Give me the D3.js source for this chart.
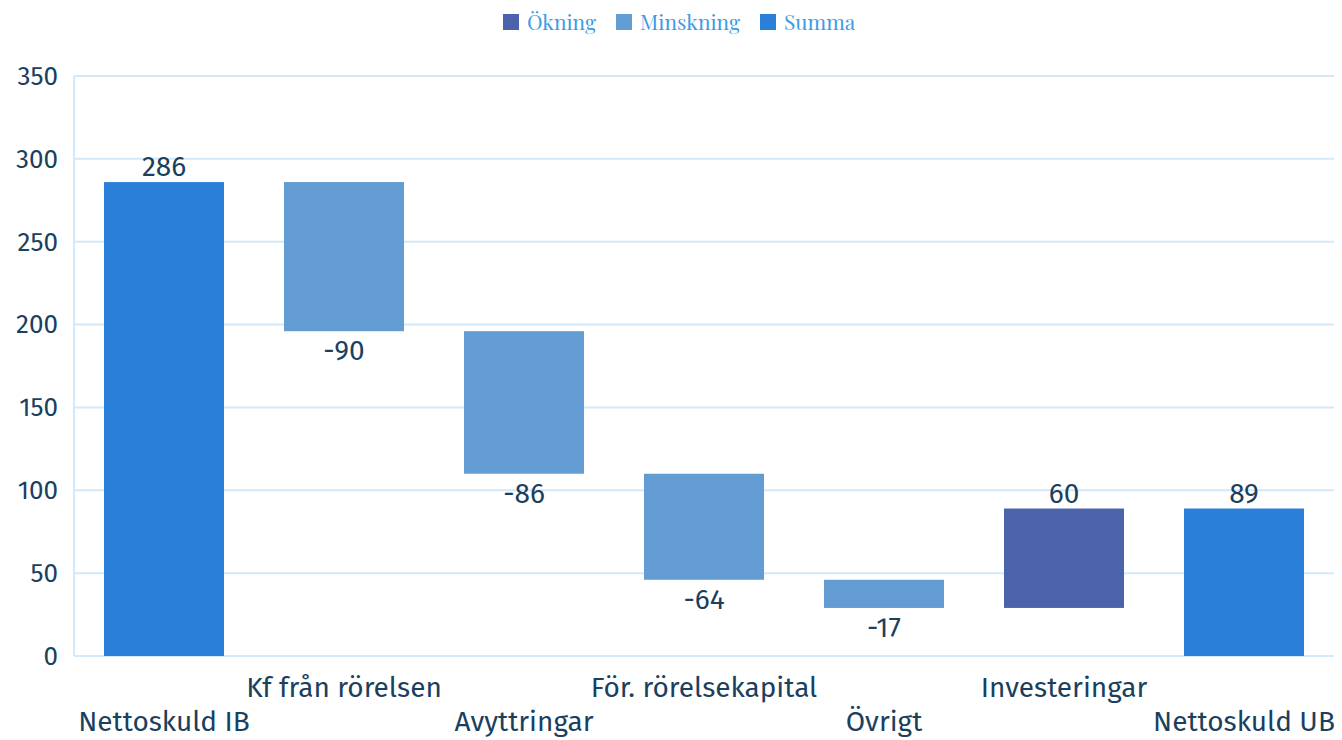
<!DOCTYPE html>
<html>
<head>
<meta charset="utf-8">
<script src="https://cdn.jsdelivr.net/npm/d3@7"></script>
<style>
  body { margin: 0; background: #fff; }
  svg { display: block; }
</style>
</head>
<body>
<svg id="chart" width="1342" height="740"></svg>
<script>
const categories = ["Nettoskuld IB", "Kf från rörelsen", "Avyttringar", "För. rörelsekapital", "Övrigt", "Investeringar", "Nettoskuld UB"];
const values = [286, -90, -86, -64, -17, 60, 89];
const kinds = ["Summa", "Minskning", "Minskning", "Minskning", "Minskning", "Ökning", "Summa"];
const yTicks = [0, 50, 100, 150, 200, 250, 300, 350];
const legendItems = ["Ökning", "Minskning", "Summa"];

const colors = { "Ökning": "#4b63aa", "Minskning": "#629cd2", "Summa": "#2a80d8" };
const textColor = "#1b3f5e";
const font = "'Fira Sans', 'Noto Sans', sans-serif";

const svg = d3.select("#chart");
const margin = { top: 76, right: 8, bottom: 84, left: 74 };
const width = 1342 - margin.left - margin.right;
const height = 740 - margin.top - margin.bottom;

// running totals for the waterfall
let running = 0;
const bars = categories.map((c, i) => {
    let y0, y1;
    if (kinds[i] === "Summa") {
        y0 = 0; y1 = values[i]; running = values[i];
    } else {
        y0 = running; y1 = running + values[i]; running = y1;
    }
    return { cat: c, value: values[i], kind: kinds[i], y0, y1, idx: i };
});

const x = d3.scaleBand()
    .domain(categories)
    .range([0, width])
    .paddingInner(1 / 3)
    .paddingOuter(1 / 6);

const y = d3.scaleLinear()
    .domain([0, 350])
    .range([height, 0]);

const g = svg.append("g")
    .attr("transform", `translate(${margin.left},${margin.top})`);

//grid lines
g.selectAll(".grid")
    .data(yTicks)
    .enter()
    .append("line")
    .attr("x1", 0)
    .attr("x2", width)
    .attr("y1", d => y(d))
    .attr("y2", d => y(d))
    .style("stroke", "#d3e8f8")
    .style("stroke-width", 2);

g.append("line")
    .attr("x1", 0).attr("x2", 0)
    .attr("y1", 0).attr("y2", height)
    .style("stroke", "#d3e8f8")
    .style("stroke-width", 2);

//y axis labels
const yAxis = d3.axisLeft(y).tickValues(yTicks).tickSize(0).tickPadding(16);
const yg = g.append("g").call(yAxis);
yg.select(".domain").remove();
yg.selectAll("text")
    .style("font-family", font)
    .style("font-size", "26px")
    .style("fill", textColor);

//bars
g.selectAll(".bar")
    .data(bars)
    .enter()
    .append("rect")
    .attr("x", d => x(d.cat))
    .attr("width", x.bandwidth())
    .attr("y", d => y(Math.max(d.y0, d.y1)))
    .attr("height", d => Math.abs(y(d.y0) - y(d.y1)))
    .style("fill", d => colors[d.kind]);

//value labels
g.selectAll(".val")
    .data(bars)
    .enter()
    .append("text")
    .attr("x", d => x(d.cat) + x.bandwidth() / 2)
    .attr("y", d => d.value < 0 ? y(Math.min(d.y0, d.y1)) + 29 : y(Math.max(d.y0, d.y1)) - 6)
    .attr("text-anchor", "middle")
    .style("font-family", font)
    .style("font-size", "28px")
    .style("fill", textColor)
    .text(d => d.value);

//category labels, staggered
g.selectAll(".cat")
    .data(bars)
    .enter()
    .append("text")
    .attr("x", d => x(d.cat) + x.bandwidth() / 2)
    .attr("y", d => height + (d.idx % 2 === 0 ? 75 : 41))
    .attr("text-anchor", "middle")
    .style("font-family", font)
    .style("font-size", "28px")
    .style("fill", textColor)
    .text(d => d.cat);

//legend
const legend = svg.append("g").attr("transform", "translate(503,14)");
const legendX = [0, 113, 257];
legendItems.forEach((k, i) => {
    const lg = legend.append("g").attr("transform", `translate(${legendX[i]},0)`);
    lg.append("rect")
        .attr("width", 16)
        .attr("height", 16)
        .style("fill", colors[k]);
    lg.append("text")
        .attr("x", 24)
        .attr("y", 16)
        .style("font-family", "'Playfair Display', 'DejaVu Serif', serif")
        .style("font-size", "21px")
        .style("fill", "#3d9be6")
        .text(k);
});
</script>
</body>
</html>
